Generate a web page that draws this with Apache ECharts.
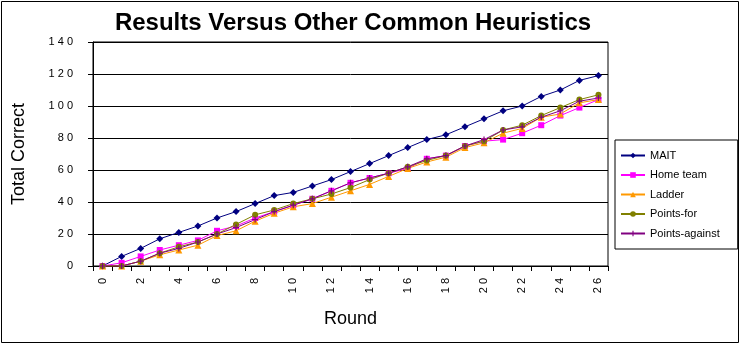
<!DOCTYPE html>
<html>
<head>
<meta charset="utf-8">
<script src="https://cdn.jsdelivr.net/npm/echarts@6/dist/echarts.min.js"></script>
<style>
html,body{margin:0;padding:0;background:#fff;}
#c{width:741px;height:345px;}
</style>
</head>
<body>
<div id="c"></div>
<script>
var rounds = [0,1,2,3,4,5,6,7,8,9,10,11,12,13,14,15,16,17,18,19,20,21,22,23,24,25,26];
var mait = [0,6,11,17,21,25,30,34,39,44,46,50,54,59,64,69,74,79,82,87,92,97,100,106,110,116,119];
var homeTeam = [0,2,6,10,13,16,22,25,30,34,38,42,47,52,55,58,61,67,69,75,78,79,83,88,94,99,104];
var ladder = [0,0,3,7,10,13,19,22,28,33,37,39,43,47,51,56,61,65,68,74,77,83,86,93,95,102,104];
var pointsFor = [0,0,3,8,12,15,20,26,32,35,39,42,45,49,54,58,62,66,69,75,78,85,88,94,99,104,107];
var pointsAgainst = [0,0,3,8,11,15,20,24,29,34,38,42,47,52,55,58,62,67,69,75,79,85,87,93,97,103,105];
var seriesNames = ['MAIT','Home team','Ladder','Points-for','Points-against'];
var yMin = 0, yMax = 140, yStep = 20;

var FONT = "'Liberation Sans', Arial, sans-serif";
function spaced(v){ return String(v).split('').join(' '); }
var plusPath = 'path://M4,0h2v10h-2z M0,4h10v2h-10z';

function mk(name, data, color, symbol, size){
  return {
    name: name, type: 'line', data: data,
    symbol: symbol, symbolSize: size,
    lineStyle: {color: color, width: 1},
    itemStyle: {color: color},
    emphasis: {disabled: true},
    animation: false
  };
}

var chart = echarts.init(document.getElementById('c'));
chart.setOption({
  backgroundColor: '#fff',
  animation: false,
  title: {
    text: 'Results Versus Other Common Heuristics',
    left: 348, top: 6, textAlign: 'center',
    textStyle: {fontFamily: FONT, fontSize: 24, fontWeight: 'bold', color: '#000'}
  },
  grid: {left: 93, top: 42, right: 133, bottom: 79, show: true, borderColor: '#000', borderWidth: 1, backgroundColor: '#fff'},
  legend: {
    orient: 'vertical', left: 615, top: 140,
    padding: [9, 18, 9, 5],
    itemGap: 6.5, itemWidth: 24, itemHeight: 7,
    borderColor: '#000', borderWidth: 1,
    textStyle: {fontFamily: FONT, fontSize: 11, color: '#000', lineHeight: 13},
    data: seriesNames
  },
  xAxis: {
    type: 'category', data: rounds, boundaryGap: true,
    name: 'Round', nameLocation: 'middle', nameGap: 44,
    nameTextStyle: {fontFamily: FONT, fontSize: 18, color: '#000'},
    axisLine: {lineStyle: {color: '#000', width: 1}},
    axisTick: {show: true, interval: 0, length: 5, lineStyle: {color: '#000'}},
    axisLabel: {interval: 1, rotate: 90, margin: 12, formatter: spaced, fontFamily: FONT, fontSize: 11, color: '#000'},
    splitLine: {show: false}
  },
  yAxis: {
    type: 'value', min: yMin, max: yMax, interval: yStep,
    name: 'Total Correct', nameLocation: 'middle', nameGap: 65,
    nameTextStyle: {fontFamily: FONT, fontSize: 18, color: '#000'},
    axisLine: {show: true, lineStyle: {color: '#000', width: 1}},
    axisTick: {show: true, length: 5, lineStyle: {color: '#000'}},
    axisLabel: {margin: 20, formatter: spaced, fontFamily: FONT, fontSize: 11, color: '#000'},
    splitLine: {show: true, lineStyle: {color: '#000', width: 1}}
  },
  graphic: [{
    type: 'rect', silent: true, z: 100,
    shape: {x: 1.5, y: 1.5, width: 737, height: 341},
    style: {fill: 'none', stroke: '#000', lineWidth: 1}
  }],
  series: [
    mk(seriesNames[0], mait, '#000080', 'diamond', 7),
    mk(seriesNames[1], homeTeam, '#FF00FF', 'rect', 6),
    mk(seriesNames[2], ladder, '#FF9900', 'triangle', 7),
    mk(seriesNames[3], pointsFor, '#808000', 'circle', 6),
    mk(seriesNames[4], pointsAgainst, '#800080', plusPath, 6)
  ]
});
</script>
</body>
</html>
